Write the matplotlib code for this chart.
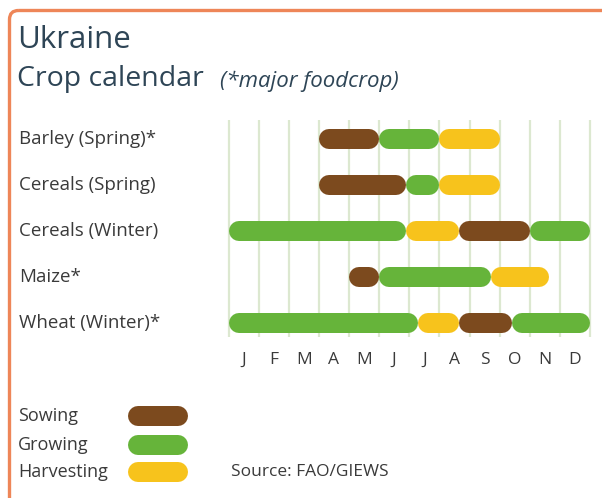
import numpy as np
import matplotlib
matplotlib.use("Agg")
import matplotlib.pyplot as plt
from matplotlib.patches import FancyBboxPatch

plt.rcParams['font.family'] = ['Open Sans', 'DejaVu Sans']

# crop calendar, months as fractions of the year (0 = start of January)
crops = ['Barley (Spring)*', 'Cereals (Spring)', 'Cereals (Winter)', 'Maize*', 'Wheat (Winter)*']
months = ['J', 'F', 'M', 'A', 'M', 'J', 'J', 'A', 'S', 'O', 'N', 'D']

barley_spring = [(3.0, 5.0, 'sow'), (5.0, 7.0, 'grow'), (7.0, 9.0, 'harv')]
cereals_spring = [(3.0, 5.9, 'sow'), (5.9, 7.0, 'grow'), (7.0, 9.0, 'harv')]
cereals_winter = [(0.0, 5.9, 'grow'), (5.9, 7.65, 'harv'), (7.65, 10.0, 'sow'), (10.0, 12.0, 'grow')]
maize = [(4.0, 5.0, 'sow'), (5.0, 8.7, 'grow'), (8.7, 10.65, 'harv')]
wheat_winter = [(0.0, 6.3, 'grow'), (6.3, 7.65, 'harv'), (7.65, 9.4, 'sow'), (9.4, 12.0, 'grow')]
calendar = [barley_spring, cereals_spring, cereals_winter, maize, wheat_winter]

stages = ['sow', 'grow', 'harv']
stage_names = ['Sowing', 'Growing', 'Harvesting']
colors = {'sow': '#7c4a1e', 'grow': '#66b43a', 'harv': '#f7c31c'}

W, H = 602, 498
fig = plt.figure(figsize=(W / 100, H / 100), dpi=100)
fig.patch.set_facecolor('white')

# overlay in pixel units for frame and texts
bg = fig.add_axes([0, 0, 1, 1])
bg.set_xlim(0, W)
bg.set_ylim(H, 0)
bg.axis('off')

frame = FancyBboxPatch((9.5, 10.5), 640, 560, boxstyle='round,pad=0,rounding_size=9',
                       fc='none', ec='#ee8658', lw=2.4)
bg.add_patch(frame)

title_col = '#2e4556'
text_col = '#3a3a3a'
bg.text(17, 40, 'Ukraine', fontsize=22.5, color=title_col, va='center', ha='left')
bg.text(17, 79, 'Crop calendar', fontsize=20.5, color=title_col, va='center', ha='left')
bg.text(220, 81, '(*major foodcrop)', fontsize=16, style='italic', color=title_col,
        va='center', ha='left')

# calendar axes: x in months, y in rows
left, right = 228.5, 590.0
top, bottom = 120.0, 337.0
ax = fig.add_axes([left / W, 1 - bottom / H, (right - left) / W, (bottom - top) / H])
row_px = 46.0
y_top = -(139 - top) / row_px
y_bot = 4 + (bottom - 323) / row_px
ax.set_xlim(0, 12)
ax.set_ylim(y_bot, y_top)
ax.patch.set_alpha(0)
for s in ax.spines.values():
    s.set_visible(False)

ax.vlines(np.arange(13), y_bot, y_top, color='#dce8d0', lw=1.6, zorder=1, clip_on=False)

bar_px = 20.0
lw_pt = bar_px * 72 / 100
cap = (bar_px / 2) / ((right - left) / 12)

for row, segments in enumerate(calendar):
    for x0, x1, stage in segments:
        ax.plot([x0 + cap, x1 - cap], [row, row], color=colors[stage], lw=lw_pt,
                solid_capstyle='round', zorder=3, clip_on=False)
    bg.text(19, 139 + row * row_px, crops[row], fontsize=13.5, color=text_col,
            va='center', ha='left')

ax.set_yticks([])
ax.set_xticks(np.arange(12) + 0.5)
ax.set_xticklabels(months, fontsize=12.5, color=text_col)
ax.tick_params(axis='x', length=0, pad=11)

# legend
leg_y = [416, 445, 472]
for name, stage, y in zip(stage_names, stages, leg_y):
    bg.text(18, y, name, fontsize=13, color=text_col, va='center', ha='left')
    bg.plot([128 + 10, 188 - 10], [y, y], color=colors[stage], lw=lw_pt,
            solid_capstyle='round')

bg.text(231, 472, 'Source: FAO/GIEWS', fontsize=12.5, color=text_col, va='center', ha='left')

fig.savefig('out.png', dpi=100, facecolor='white')
